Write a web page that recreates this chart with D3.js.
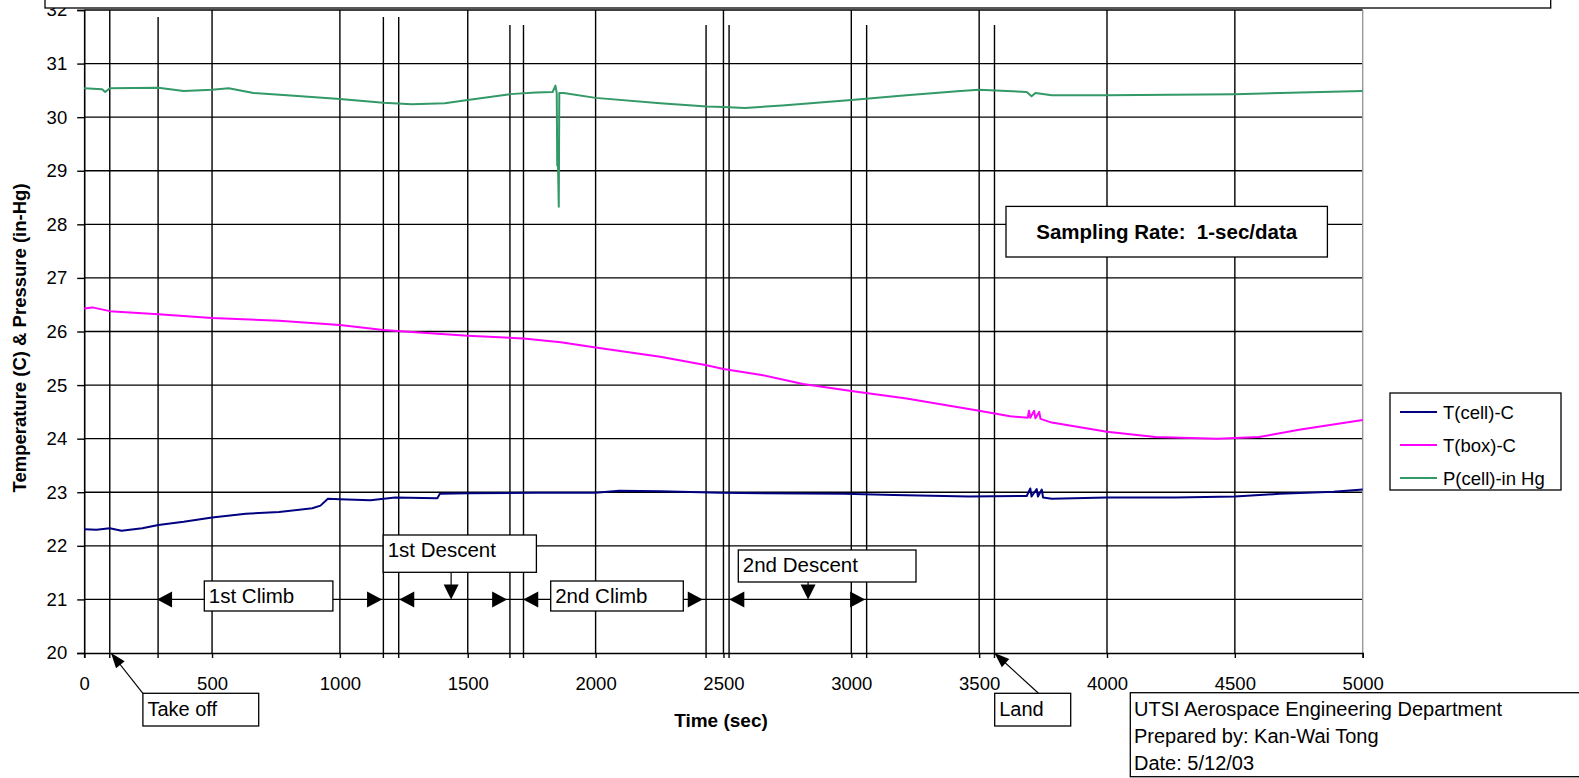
<!DOCTYPE html>
<html>
<head>
<meta charset="utf-8">
<script src="https://d3js.org/d3.v7.min.js"></script>
<style>
body { margin: 0; background: #fff; }
svg { font-family: "Liberation Sans", Arial, sans-serif; }
</style>
</head>
<body>
<div id="chart"></div>
<script>
// flight log data: [time (sec), value]
var tCell = [[0,22.31],[48,22.3],[100,22.33],[146,22.28],[227,22.33],[290,22.39],[389,22.45],[500,22.53],[632,22.6],
	[762,22.63],[892,22.7],[924,22.75],[953,22.88],[1000,22.87],[1119,22.85],[1216,22.9],[1381,22.89],[1391,22.97],
	[1500,22.98],[1767,22.99],[2000,22.99],[2092,23.03],[2253,23.02],[2487,22.99],[2973,22.97],[3167,22.95],[3460,22.92],
	[3686,22.93],[3700,23.07],[3705,22.92],[3725,23.06],[3730,22.92],[3745,23.05],[3750,22.9],[3784,22.88],[4000,22.9],
	[4270,22.9],[4500,22.92],[4675,22.97],[4886,23.01],[5000,23.05]];
var tBox = [[0,26.43],[32,26.45],[100,26.38],[290,26.32],[500,26.25],[762,26.2],[1000,26.12],[1170,26.03],[1281,25.99],
	[1500,25.92],[1718,25.87],[1864,25.8],[2000,25.7],[2253,25.53],[2434,25.37],[2500,25.3],[2649,25.19],[2811,25.02],
	[3000,24.89],[3216,24.75],[3500,24.52],[3621,24.42],[3690,24.39],[3695,24.52],[3700,24.39],[3715,24.52],[3720,24.38],
	[3735,24.5],[3740,24.37],[3784,24.3],[4000,24.13],[4189,24.03],[4432,24.0],[4595,24.03],[4757,24.17],[5000,24.35]];
var pCell = [[0,30.54],[70,30.52],[82,30.47],[100,30.54],[290,30.55],[389,30.49],[500,30.51],[565,30.54],[662,30.45],
	[793,30.41],[1000,30.34],[1170,30.27],[1281,30.24],[1410,30.26],[1500,30.32],[1665,30.43],[1767,30.46],[1832,30.47],
	[1843,30.59],[1848,30.45],[1850,29.1],[1853,29.1],[1856,28.33],[1858,30.45],[1875,30.45],[2000,30.36],[2253,30.26],
	[2434,30.2],[2500,30.19],[2584,30.17],[2730,30.22],[3000,30.32],[3216,30.41],[3427,30.49],[3500,30.51],[3686,30.47],
	[3705,30.39],[3720,30.45],[3784,30.41],[4000,30.41],[4500,30.43],[4757,30.46],[5000,30.49]];

var seriesNames = ["T(cell)-C", "T(box)-C", "P(cell)-in Hg"];
var xTicks = [0, 500, 1000, 1500, 2000, 2500, 3000, 3500, 4000, 4500, 5000];
var yTicks = [20, 21, 22, 23, 24, 25, 26, 27, 28, 29, 30, 31, 32];

// hand drawn event markers (time, value where the line starts)
var eventTimes = [100, 289, 1170, 1230, 1665, 1718, 2432, 2522, 3060, 3560];
var eventTops = [32, 31.87, 31.87, 31.87, 31.72, 31.72, 31.72, 31.72, 31.72, 31.72];

// flight phases along the 21 line
var phaseNames = ["1st Climb", "1st Descent", "2nd Climb", "2nd Descent"];
var phaseStart = [285, 1232, 1717, 2523];
var phaseEnd = [1165, 1654, 2419, 3054];
var phaseLevel = 21;

var w = 1579, h = 778;
var colors = ["#000080", "#ff00ff", "#339966"];

var x = d3.scaleLinear().domain([0, 5000]).range([84.2, 1362.7]);
var y = d3.scaleLinear().domain([20, 32]).range([653, 10]);

var svg = d3.select("#chart").append("svg")
	.attr("width", w)
	.attr("height", h);

// gridlines
svg.append("g").selectAll("line.hgrid")
	.data(yTicks.slice(1))
	.enter().append("line")
	.attr("x1", x(0)).attr("x2", x(5000))
	.attr("y1", function(d) { return y(d); })
	.attr("y2", function(d) { return y(d); })
	.style("stroke", "#000").style("stroke-width", 1.4);

svg.append("g").selectAll("line.vgrid")
	.data(xTicks.slice(1, -1))
	.enter().append("line")
	.attr("x1", function(d) { return x(d); })
	.attr("x2", function(d) { return x(d); })
	.attr("y1", y(32)).attr("y2", y(20))
	.style("stroke", "#000").style("stroke-width", 1.4);

// right border of the plot area is grey
svg.append("line")
	.attr("x1", x(5000)).attr("x2", x(5000))
	.attr("y1", y(32)).attr("y2", y(20))
	.style("stroke", "#999").style("stroke-width", 1.4);

// event lines
svg.append("g").selectAll("line")
	.data(eventTimes)
	.enter().append("line")
	.attr("x1", function(d) { return x(d); })
	.attr("x2", function(d) { return x(d); })
	.attr("y1", function(d, i) { return y(eventTops[i]); })
	.attr("y2", y(20) + 5)
	.style("stroke", "#000").style("stroke-width", 1.4);

// axes
var xAxis = d3.axisBottom(x).tickValues(xTicks).tickSize(5).tickFormat(d3.format("d"));
var gx = svg.append("g").attr("transform", "translate(0," + y(20) + ")").call(xAxis);
gx.select(".domain").style("stroke", "#000").style("stroke-width", 1.6);
gx.selectAll(".tick line").style("stroke", "#000").style("stroke-width", 1.4);
gx.selectAll(".tick text").attr("y", 0).attr("dy", "37px")
	.style("font-size", "18.5px").style("fill", "#000").style("font-family", "Liberation Sans, Arial");

var yAxis = d3.axisLeft(y).tickValues(yTicks).tickSize(7).tickFormat(d3.format("d"));
var gy = svg.append("g").attr("transform", "translate(" + x(0) + ",0)").call(yAxis);
gy.select(".domain").style("stroke", "#000").style("stroke-width", 1.6);
gy.selectAll(".tick line").style("stroke", "#000").style("stroke-width", 1.4);
gy.selectAll(".tick text").attr("x", -17)
	.style("font-size", "18.5px").style("fill", "#000").style("font-family", "Liberation Sans, Arial");

// the data lines
var line = d3.line()
	.x(function(d) { return x(d[0]); })
	.y(function(d) { return y(d[1]); });

[tCell, tBox, pCell].forEach(function(s, i) {
	svg.append("path")
		.datum(s)
		.attr("d", line)
		.style("fill", "none")
		.style("stroke", colors[i])
		.style("stroke-width", 2)
		.style("stroke-linejoin", "round");
});

// axis titles
svg.append("text")
	.attr("transform", "translate(26,338) rotate(-90)")
	.attr("text-anchor", "middle")
	.style("font-weight", "bold").style("font-size", "18.5px")
	.text("Temperature (C) & Pressure (in-Hg)");

svg.append("text")
	.attr("x", 721).attr("y", 727)
	.attr("text-anchor", "middle")
	.style("font-weight", "bold").style("font-size", "19px")
	.text("Time (sec)");

// text box helper
function box(x0, y0, bw, bh) {
	svg.append("rect")
		.attr("x", x0).attr("y", y0)
		.attr("width", bw).attr("height", bh)
		.style("fill", "#fff").style("stroke", "#000").style("stroke-width", 1.3);
}

// triangle arrow head, tip at (tx,ty), pointing along angle a
function head(tx, ty, a, len, wid) {
	var bx = tx - len * Math.cos(a), by = ty - len * Math.sin(a);
	var px = -Math.sin(a) * wid / 2, py = Math.cos(a) * wid / 2;
	svg.append("path")
		.attr("d", "M" + tx + "," + ty + "L" + (bx + px) + "," + (by + py) + "L" + (bx - px) + "," + (by - py) + "Z")
		.style("fill", "#000");
}

// phase arrows on the 21 line
var ly = y(phaseLevel);
phaseNames.forEach(function(p, i) {
	head(x(phaseStart[i]), ly, Math.PI, 15, 16);
	head(x(phaseEnd[i]), ly, 0, 15, 16);
});

// phase label boxes (left, top, width, height, pointer time or null)
var phaseBoxes = [[204.3, 581, 128.6, 30, null], [383.2, 535, 153.2, 37.3, 1435],
	[550.7, 581, 132.6, 30, null], [738.3, 550, 177.7, 32, 2831]];
phaseBoxes.forEach(function(b, i) {
	if (b[4] != null) {
		var px = x(b[4]);
		svg.append("line").attr("x1", px).attr("x2", px)
			.attr("y1", b[1] + b[3]).attr("y2", ly - 12)
			.style("stroke", "#000").style("stroke-width", 1.2);
		head(px, ly, Math.PI / 2, 15, 15);
	}
	box(b[0], b[1], b[2], b[3]);
	svg.append("text")
		.attr("x", b[0] + 4.5).attr("y", b[1] + 22)
		.style("font-size", "20.5px")
		.text(phaseNames[i]);
});

// take off / land callouts: label, box left, box width, leader start x, time pointed at
function callout(label, bx0, bw, sx, t) {
	var tipx = x(t), tipy = y(20);
	var a = Math.atan2(tipy - 693.3, tipx - sx);
	svg.append("line")
		.attr("x1", sx).attr("y1", 693.3)
		.attr("x2", tipx).attr("y2", tipy)
		.style("stroke", "#000").style("stroke-width", 1.2);
	head(tipx, tipy, a, 15, 11);
	box(bx0, 693.3, bw, 32.7);
	svg.append("text")
		.attr("x", bx0 + 4.5).attr("y", 716)
		.style("font-size", "20px")
		.text(label);
}
callout("Take off", 142.9, 115.8, 142.9, 105);
callout("Land", 994.7, 76, 1038.5, 3560);

// sampling rate note
box(1006, 206.4, 321.4, 50.6);
svg.append("text")
	.attr("x", 1166.7).attr("y", 239)
	.attr("text-anchor", "middle")
	.attr("xml:space", "preserve")
	.style("white-space", "pre")
	.style("font-weight", "bold").style("font-size", "20.5px")
	.text("Sampling Rate:  1-sec/data");

// legend
box(1390, 393, 171, 97);
seriesNames.forEach(function(n, i) {
	var ry = 412 + i * 33;
	svg.append("line").attr("x1", 1400).attr("x2", 1437)
		.attr("y1", ry).attr("y2", ry)
		.style("stroke", colors[i]).style("stroke-width", 2);
	svg.append("text").attr("x", 1443).attr("y", ry).attr("dy", "0.36em")
		.style("font-size", "18.5px")
		.text(n);
});

// author note
box(1130.3, 692.7, 460, 84);
["UTSI Aerospace Engineering Department", "Prepared by: Kan-Wai Tong", "Date: 5/12/03"].forEach(function(t, i) {
	svg.append("text").attr("x", 1134).attr("y", 716 + i * 27)
		.style("font-size", "20px")
		.text(t);
});

// title box, mostly cut off at the top
box(45, -20, 1505.7, 28);
</script>
</body>
</html>
